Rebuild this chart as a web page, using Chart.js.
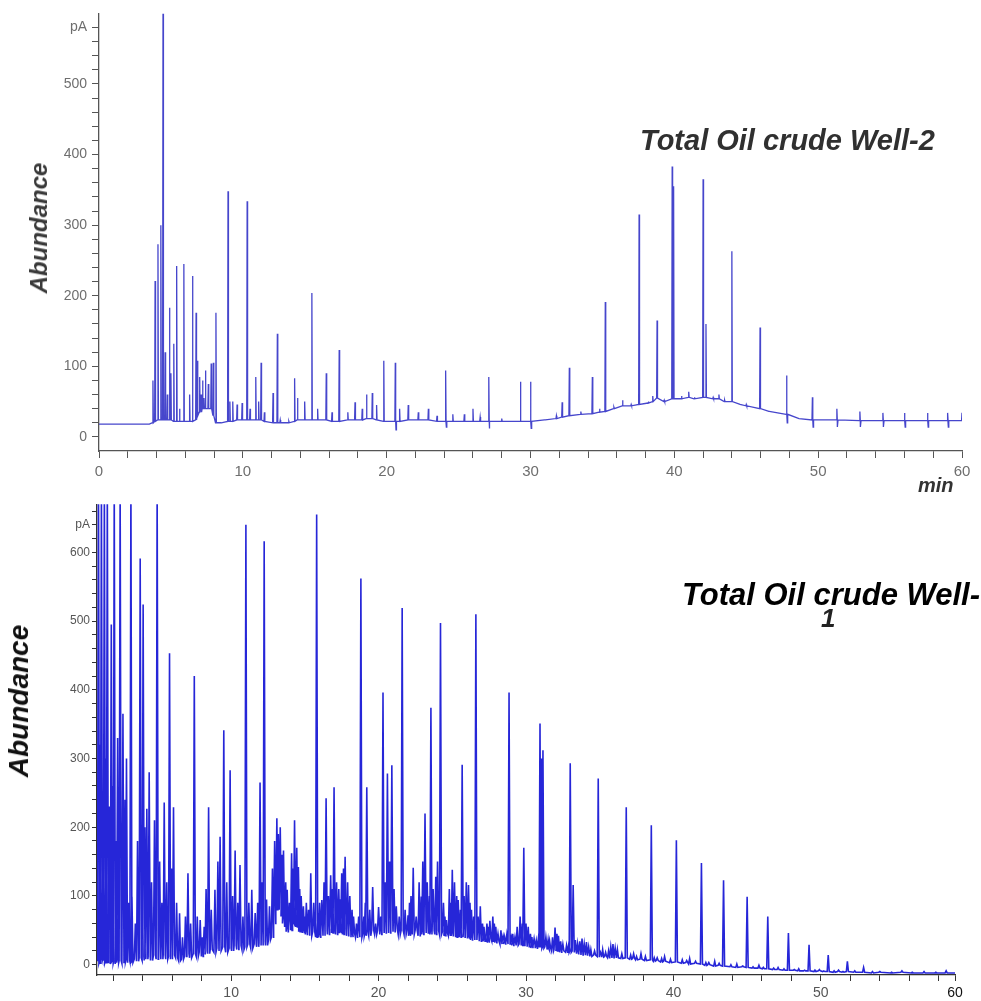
<!DOCTYPE html>
<html>
<head>
<meta charset="utf-8">
<script src="https://cdn.jsdelivr.net/npm/chart.js@4.4.1/dist/chart.umd.min.js"></script>
<style>
  html, body { margin: 0; padding: 0; background: #fff; overflow: hidden; }
  body { width: 981px; height: 1001px; position: relative; font-family: "Liberation Sans", Arial, sans-serif; }
  .panel { position: absolute; left: 0; width: 981px; }
  #well2Box { top: 0; height: 495px; }
  #well1Box { top: 495px; height: 506px; }
  .txt { position: absolute; white-space: nowrap; font-weight: bold; font-style: italic; line-height: 1; }
  .ylab { transform: translate(-50%, -50%) rotate(-90deg); }
</style>
</head>
<body>
<div class="panel" id="well2Box"><canvas id="well2" width="981" height="495"></canvas></div>
<div class="panel" id="well1Box"><canvas id="well1" width="981" height="506"></canvas></div>

<div class="txt ylab" style="left:39px; top:228px; font-size:24px; color:#3a3a3a;">Abundance</div>
<div class="txt" style="left:640px; top:126px; font-size:29px; color:#303030;">Total Oil crude Well-2</div>
<div class="txt" style="left:918px; top:475px; font-size:20px; color:#333;">min</div>

<div class="txt ylab" style="left:19px; top:701px; font-size:28px; color:#111;">Abundance</div>
<div class="txt" style="left:682px; top:579px; font-size:31px; color:#000;">Total Oil crude Well-</div>
<div class="txt" style="left:821px; top:605px; font-size:26px; color:#222;">1</div>

<script>
// peaks: [retention time (min), peak top (pA), foot of the peak (pA)]
const well2Peaks = [
  [0, 18, 18], [3.5, 18, 18], [3.75, 80, 20], [3.9, 221, 22], [4.1, 273, 24], [4.3, 300, 24],
  [4.45, 600, 24], [4.6, 120, 24], [4.75, 60, 24], [4.9, 183, 24], [5.0, 90, 24], [5.2, 132, 22],
  [5.4, 242, 22], [5.6, 40, 22], [5.9, 245, 22], [6.3, 60, 22], [6.5, 228, 22], [6.75, 176, 24],
  [6.85, 108, 30], [7.0, 85, 35], [7.1, 60, 35], [7.2, 80, 40], [7.3, 55, 40], [7.4, 94, 40],
  [7.6, 75, 40], [7.8, 104, 40], [7.95, 105, 30], [8.13, 176, 20], [8.5, 20, 20], [8.97, 348, 22],
  [9.1, 50, 22], [9.3, 50, 22], [9.6, 46, 24], [9.95, 48, 24], [10.3, 334, 24], [10.5, 40, 24],
  [10.9, 85, 24], [11.1, 50, 24], [11.27, 105, 24], [11.5, 35, 22], [12.1, 62, 20], [12.4, 146, 20],
  [12.6, 24, 20], [13.2, 22, 20], [13.6, 83, 22], [13.8, 55, 24], [14.3, 50, 24], [14.8, 204, 24],
  [15.2, 40, 24], [15.8, 90, 24], [16.2, 35, 22], [16.7, 123, 22], [17.3, 35, 24], [17.8, 49, 24],
  [18.3, 40, 24], [18.6, 60, 26], [19.0, 62, 26], [19.3, 45, 24], [19.8, 108, 22], [20.6, 105, 22],
  [20.65, 10, 22], [20.9, 40, 22], [21.5, 45, 24], [22.2, 35, 24], [22.9, 40, 24], [23.5, 30, 22],
  [24.1, 94, 22], [24.15, 14, 22], [24.6, 32, 22], [25.4, 32, 22], [26.0, 40, 22], [26.5, 28, 22],
  [27.1, 85, 22], [27.15, 12, 22], [28.0, 26, 22], [29.3, 78, 22], [30.0, 78, 22], [30.05, 12, 22],
  [31.0, 24, 24], [31.8, 30, 26], [32.2, 49, 28], [32.7, 98, 30], [33.5, 36, 32], [34.3, 85, 33],
  [34.8, 40, 35], [35.2, 191, 36], [35.8, 42, 40], [36.4, 52, 44], [37.0, 46, 44], [37.55, 315, 46],
  [38.2, 50, 48], [38.5, 58, 50], [38.8, 165, 55], [39.3, 52, 50], [39.85, 383, 54], [39.95, 355, 54],
  [40.5, 58, 54], [41.0, 64, 56], [41.4, 56, 54], [42.0, 365, 56], [42.2, 160, 56], [42.7, 56, 54],
  [43.1, 60, 54], [43.5, 52, 50], [44.0, 263, 50], [44.6, 46, 46], [45.0, 46, 44], [45.96, 155, 40],
  [46.6, 36, 36], [47.8, 87, 32], [47.85, 20, 32], [48.7, 26, 26], [49.6, 56, 24], [49.65, 14, 24],
  [51.3, 40, 24], [51.35, 14, 24], [52.9, 36, 23], [52.95, 14, 23], [54.5, 34, 23], [54.55, 14, 23],
  [56.0, 34, 23], [56.05, 14, 23], [57.6, 34, 23], [57.65, 14, 23], [59.0, 34, 23], [59.05, 14, 23],
  [60.0, 34, 23]
];

const well1Peaks = [
  [1.0, 700, 5], [1.1, 320, 2], [1.2, 700, 8], [1.3, 250, 12], [1.4, 700, 6], [1.5, 300, 3],
  [1.6, 700, 5], [1.75, 230, 2], [1.87, 495, 6], [1.95, 260, 4], [2.07, 700, 2], [2.2, 180, 8],
  [2.3, 330, 3], [2.47, 700, 6], [2.66, 365, 2], [2.8, 240, 8], [2.9, 300, 4], [3.05, 90, 6],
  [3.2, 700, 5], [3.27, 99, 3], [3.5, 60, 8], [3.65, 180, 5], [3.83, 591, 10], [4.03, 524, 6],
  [4.15, 200, 12], [4.28, 227, 8], [4.44, 280, 12], [4.6, 120, 6], [4.8, 210, 14], [4.98, 700, 8],
  [5.15, 150, 12], [5.3, 90, 8], [5.46, 236, 14], [5.63, 120, 8], [5.82, 453, 12], [5.95, 140, 8],
  [6.09, 229, 14], [6.3, 90, 10], [6.5, 75, 6], [6.7, 40, 8], [6.9, 70, 12], [7.07, 133, 16],
  [7.25, 60, 10], [7.5, 420, 16], [7.7, 70, 12], [7.9, 65, 18], [8.05, 40, 12], [8.17, 55, 16],
  [8.3, 110, 20], [8.47, 229, 16], [8.65, 80, 22], [8.9, 109, 18], [9.1, 150, 24], [9.25, 186, 20],
  [9.5, 341, 26], [9.7, 120, 18], [9.93, 283, 24], [10.1, 100, 20], [10.27, 166, 28], [10.45, 90, 22],
  [10.6, 145, 28], [10.8, 70, 22], [11.0, 640, 26], [11.2, 90, 30], [11.4, 109, 24], [11.63, 75, 30],
  [11.8, 90, 26], [11.96, 265, 32], [12.1, 120, 28], [12.24, 616, 34], [12.4, 95, 28], [12.6, 85, 36],
  [12.8, 140, 40], [12.95, 180, 60], [13.1, 213, 80], [13.2, 190, 90], [13.33, 200, 80], [13.45, 160, 70],
  [13.55, 166, 60], [13.7, 120, 55], [13.8, 109, 48], [13.95, 90, 56], [14.1, 162, 50], [14.2, 140, 60],
  [14.3, 210, 62], [14.45, 170, 55], [14.56, 142, 60], [14.65, 110, 48], [14.75, 100, 55], [14.9, 85, 46],
  [15.0, 70, 52], [15.1, 90, 44], [15.25, 80, 50], [15.4, 133, 42], [15.6, 90, 48], [15.8, 655, 40],
  [15.9, 75, 46], [16.0, 90, 40], [16.15, 94, 48], [16.3, 120, 42], [16.44, 242, 50], [16.6, 100, 44],
  [16.75, 130, 52], [16.88, 110, 46], [16.98, 258, 50], [17.15, 120, 44], [17.3, 110, 52], [17.4, 95, 46],
  [17.5, 133, 50], [17.62, 140, 44], [17.73, 157, 52], [17.9, 120, 42], [18.05, 100, 48], [18.2, 80, 40],
  [18.3, 70, 46], [18.5, 60, 40], [18.65, 70, 44], [18.8, 562, 40], [19.0, 70, 46], [19.1, 90, 42],
  [19.2, 258, 48], [19.4, 80, 42], [19.6, 113, 50], [19.8, 60, 44], [20.0, 84, 50], [20.15, 70, 44],
  [20.3, 396, 50], [20.45, 120, 46], [20.6, 278, 52], [20.75, 150, 46], [20.9, 290, 54], [21.05, 110, 48],
  [21.2, 85, 52], [21.4, 70, 44], [21.6, 519, 50], [21.8, 80, 44], [22.0, 72, 50], [22.1, 90, 42],
  [22.2, 100, 48], [22.35, 141, 44], [22.55, 70, 50], [22.75, 120, 42], [22.9, 99, 50], [23.0, 150, 44],
  [23.15, 220, 52], [23.3, 120, 46], [23.45, 100, 50], [23.55, 374, 44], [23.7, 110, 50], [23.88, 128, 44],
  [24.0, 150, 50], [24.2, 497, 44], [24.4, 90, 48], [24.5, 70, 42], [24.6, 65, 46], [24.8, 110, 42],
  [24.9, 90, 48], [25.0, 138, 42], [25.15, 120, 46], [25.3, 100, 40], [25.4, 94, 46], [25.55, 80, 40],
  [25.67, 291, 44], [25.8, 100, 40], [25.95, 120, 44], [26.1, 116, 38], [26.2, 90, 42], [26.3, 80, 36],
  [26.45, 70, 40], [26.6, 510, 36], [26.75, 70, 40], [26.9, 85, 34], [27.05, 60, 38], [27.15, 55, 34],
  [27.35, 60, 38], [27.45, 55, 32], [27.55, 64, 38], [27.75, 70, 34], [27.85, 60, 36], [27.95, 55, 32],
  [28.1, 45, 34], [28.3, 50, 30], [28.45, 42, 34], [28.55, 40, 30], [28.7, 44, 32], [28.85, 396, 30],
  [29.0, 40, 32], [29.1, 45, 28], [29.25, 40, 30], [29.4, 55, 28], [29.6, 70, 30], [29.75, 60, 28],
  [29.85, 170, 28], [30.0, 60, 30], [30.15, 55, 26], [30.3, 45, 28], [30.4, 40, 24], [30.55, 38, 28],
  [30.7, 35, 24], [30.85, 40, 26], [30.95, 351, 26], [31.05, 300, 26], [31.15, 312, 24], [31.35, 40, 26],
  [31.5, 36, 22], [31.6, 35, 24], [31.8, 40, 20], [31.97, 54, 22], [32.1, 45, 20], [32.2, 42, 22],
  [32.35, 34, 18], [32.5, 30, 20], [32.75, 28, 18], [32.9, 30, 20], [33.0, 293, 18], [33.2, 116, 20],
  [33.35, 36, 18], [33.5, 30, 16], [33.65, 34, 18], [33.8, 38, 14], [33.95, 30, 16], [34.1, 33, 14],
  [34.25, 26, 15], [34.4, 22, 12], [34.65, 20, 14], [34.9, 271, 12], [35.05, 18, 13], [35.2, 22, 11],
  [35.4, 18, 12], [35.6, 20, 10], [35.75, 26, 12], [35.9, 30, 10], [36.05, 24, 12], [36.2, 22, 10],
  [36.5, 16, 9], [36.8, 229, 10], [37.1, 14, 8], [37.3, 16, 9], [37.5, 12, 7], [37.8, 16, 8],
  [38.1, 12, 6], [38.5, 203, 7], [38.7, 10, 5], [38.9, 10, 6], [39.2, 9, 4], [39.4, 12, 5],
  [39.8, 8, 3], [40.2, 181, 4], [40.6, 7, 2], [40.9, 6, 3], [41.1, 9, 1], [41.5, 5, 2],
  [41.9, 148, 1], [42.2, 3, -1], [42.4, 3, 0], [42.8, 5, -2], [43.1, 2, -1], [43.4, 123, -2],
  [43.9, 0, -3], [44.3, 1, -4], [44.7, -2, -3], [45.0, 99, -4], [45.4, -3, -5], [45.8, -1, -5],
  [46.1, -4, -6], [46.4, 70, -6], [46.8, -5, -7], [47.1, -4, -7], [47.5, -6, -8], [47.8, 46, -8],
  [48.2, -7, -8], [48.5, -6, -9], [48.9, -8, -9], [49.2, 29, -9], [49.6, -8, -10], [49.9, -7, -9],
  [50.2, -9, -10], [50.5, 14, -10], [50.9, -9, -11], [51.2, -8, -10], [51.5, -10, -11], [51.8, 5, -10],
  [52.3, -9, -11], [52.9, -4, -11], [53.5, -10, -12], [54.0, -10, -11], [54.8, -11, -12], [55.5, -9, -11],
  [56.2, -11, -12], [57.0, -10, -12], [57.8, -11, -12], [58.5, -9, -12], [59.1, -12, -12]
];

// axis labels
const well2XLabels = [0, 10, 20, 30, 40, 50, 60];
const well2YLabels = [0, 100, 200, 300, 400, 500];
const well1XLabels = [10, 20, 30, 40, 50];
const well1YLabels = [0, 100, 200, 300, 400, 500, 600];
const unitLabel = 'pA';

// every peak becomes a narrow triangle standing on its foot
const toTrace = (peaks, halfWidth) => {
    const pts = [];
    peaks.forEach(([t, top, foot]) => {
        pts.push({ x: t - halfWidth, y: foot }, { x: t, y: top }, { x: t + halfWidth, y: foot });
    });
    return pts;
};

const stepValues = (from, to, step) => {
    const out = [];
    for (let v = from; v <= to + 1e-9; v += step) out.push(Math.round(v * 100) / 100);
    return out;
};

const makeChart = (id, cfg) => {
    const ctx = document.getElementById(id).getContext('2d');
    return new Chart(ctx, {
        type: 'line',
        data: {
            datasets: [{
                data: toTrace(cfg.peaks, cfg.halfWidth),
                borderColor: cfg.color,
                borderWidth: cfg.lineWidth,
                pointRadius: 0,
                tension: 0,
                fill: false,
            }],
        },
        options: {
            responsive: false,
            animation: false,
            events: [],
            layout: { padding: cfg.padding },
            plugins: { legend: { display: false }, tooltip: { enabled: false } },
            scales: {
                x: {
                    type: 'linear',
                    min: cfg.xMin,
                    max: cfg.xMax,
                    afterFit: (s) => { s.height = cfg.xAxisHeight; },
                    afterBuildTicks: (s) => { s.ticks = cfg.xTicks.map((v) => ({ value: v })); },
                    ticks: {
                        autoSkip: false,
                        maxRotation: 0,
                        padding: cfg.xPad,
                        color: (c) => (c.tick && c.tick.value === cfg.xMax && cfg.xEndColor) ? cfg.xEndColor : cfg.tickColor,
                        font: { family: '"Liberation Sans", Arial, sans-serif', size: cfg.xFont },
                        callback: (v) => cfg.xLabel(v),
                    },
                    grid: { drawOnChartArea: false, drawTicks: true, tickLength: cfg.xTickLen, color: cfg.axisColor },
                    border: { display: true, color: cfg.axisColor, width: 1.3 },
                },
                y: {
                    type: 'linear',
                    min: cfg.yMin,
                    max: cfg.yMax,
                    afterFit: (s) => { s.width = cfg.yAxisWidth; },
                    afterBuildTicks: (s) => { s.ticks = cfg.yTicks.map((v) => ({ value: v })); },
                    ticks: {
                        autoSkip: false,
                        padding: cfg.yPad,
                        color: cfg.tickColor,
                        font: { family: '"Liberation Sans", Arial, sans-serif', size: cfg.yFont },
                        callback: (v) => cfg.yLabel(v),
                    },
                    grid: { drawOnChartArea: false, drawTicks: true, tickLength: cfg.yTickLen, color: cfg.axisColor },
                    border: { display: true, color: cfg.axisColor, width: 1.3 },
                },
            },
        },
    });
};

//! Well-2 (top)
makeChart('well2', {
    peaks: well2Peaks,
    halfWidth: 0.03,
    color: '#4646cc',
    lineWidth: 1.3,
    padding: { top: 11, right: 19, left: 0, bottom: 0 },
    xMin: 0, xMax: 60, yMin: -20, yMax: 600,
    xAxisHeight: 44, yAxisWidth: 99,
    xTicks: stepValues(0, 60, 2),
    yTicks: stepValues(0, 580, 20),
    xLabel: (v) => (well2XLabels.includes(v) ? String(v) : ''),
    yLabel: (v) => (v === 580 ? unitLabel : (well2YLabels.includes(v) ? String(v) : '')),
    xPad: 5, yPad: 5, xTickLen: 7, yTickLen: 7,
    xFont: 15, yFont: 14,
    tickColor: '#6e6e6e', axisColor: '#555',
});

//! Well-1 (bottom)
makeChart('well1', {
    peaks: well1Peaks,
    halfWidth: 0.07,
    color: '#2626d8',
    lineWidth: 1.6,
    padding: { top: 8, right: 26, left: 0, bottom: 0 },
    xMin: 0.9, xMax: 59.1, yMin: -15, yMax: 670,
    xAxisHeight: 26, yAxisWidth: 97,
    xTicks: stepValues(2, 58, 2).concat([59.1]),
    yTicks: stepValues(0, 660, 20),
    xLabel: (v) => (v === 59.1 ? '60' : (well1XLabels.includes(v) ? String(v) : '')),
    yLabel: (v) => (v === 640 ? unitLabel : (well1YLabels.includes(v) ? String(v) : '')),
    xPad: 4, yPad: 2, xTickLen: 6, yTickLen: 5,
    xFont: 14, yFont: 12,
    tickColor: '#555', axisColor: '#333', xEndColor: '#111',
});
</script>
</body>
</html>
